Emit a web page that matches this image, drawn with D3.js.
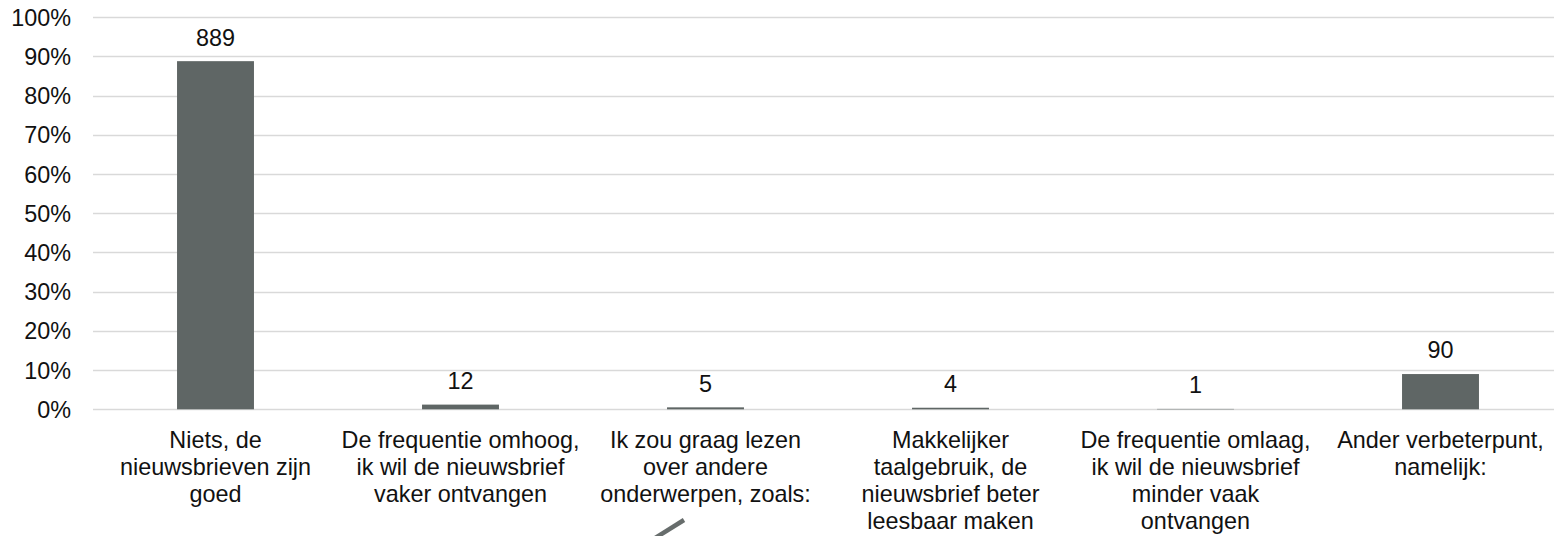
<!DOCTYPE html>
<html>
<head>
<meta charset="utf-8">
<script src="https://cdn.jsdelivr.net/npm/d3@7/dist/d3.min.js"></script>
<style>
  html, body { margin: 0; padding: 0; background: #fff; }
  svg { display: block; }
  text { font-family: "Liberation Sans", Arial, sans-serif; fill: #111; }
</style>
</head>
<body>
<svg id="chart" width="1554" height="536"></svg>
<script>
const categories = [
  ["Niets, de", "nieuwsbrieven zijn", "goed"],
  ["De frequentie omhoog,", "ik wil de nieuwsbrief", "vaker ontvangen"],
  ["Ik zou graag lezen", "over andere", "onderwerpen, zoals:"],
  ["Makkelijker", "taalgebruik, de", "nieuwsbrief beter", "leesbaar maken"],
  ["De frequentie omlaag,", "ik wil de nieuwsbrief", "minder vaak", "ontvangen"],
  ["Ander verbeterpunt,", "namelijk:"]
];
const counts = [889, 12, 5, 4, 1, 90];
const yTicks = [0, 0.1, 0.2, 0.3, 0.4, 0.5, 0.6, 0.7, 0.8, 0.9, 1.0];

(function () {
const total = d3.sum(counts);
const shares = counts.map(c => c / total);

const svg = d3.select("#chart");
const W = 1554;
const mLeft = 93, mRight = 1563, mTop = 17.3, mBottom = 409.3;
const fs = 23.4;

const x = d3.scaleBand()
  .domain(d3.range(categories.length))
  .range([mLeft, mRight])
  .paddingInner(0.686)
  .paddingOuter(0.343);
const y = d3.scaleLinear().domain([0, 1]).range([mBottom, mTop]);

// gridlines
svg.append("g")
  .selectAll("line")
  .data(yTicks)
  .join("line")
  .attr("x1", mLeft).attr("x2", W)
  .attr("y1", d => Math.round(y(d)) + 0.5)
  .attr("y2", d => Math.round(y(d)) + 0.5)
  .attr("stroke", "#d9d9d9")
  .attr("stroke-width", 1.5);

// y axis labels
svg.append("g")
  .selectAll("text")
  .data(yTicks)
  .join("text")
  .attr("x", 71)
  .attr("y", d => y(d))
  .attr("dy", "0.36em")
  .attr("text-anchor", "end")
  .attr("font-size", fs)
  .text(d => d3.format(".0%")(d));

// bars
svg.append("g")
  .selectAll("rect")
  .data(shares)
  .join("rect")
  .attr("x", (d, i) => x(i))
  .attr("width", x.bandwidth())
  .attr("y", d => y(d))
  .attr("height", d => mBottom - y(d))
  .attr("fill", "#5f6665");

// value labels
svg.append("g")
  .selectAll("text")
  .data(counts)
  .join("text")
  .attr("x", (d, i) => x(i) + x.bandwidth() / 2)
  .attr("y", (d, i) => y(shares[i]) - 24)
  .attr("dy", "0.36em")
  .attr("text-anchor", "middle")
  .attr("font-size", fs)
  .text(d => d);

// category labels
const catG = svg.append("g");
categories.forEach((lines, i) => {
  const cx = x(i) + x.bandwidth() / 2;
  const t = catG.append("text")
    .attr("text-anchor", "middle")
    .attr("font-size", fs)
    .attr("x", cx);
  lines.forEach((ln, j) => {
    t.append("tspan")
      .attr("x", cx)
      .attr("y", 440 + j * 27)
      .attr("dy", "0.36em")
      .text(ln);
  });
});

// stray stroke near the bottom
svg.append("line")
  .attr("x1", 652).attr("y1", 540)
  .attr("x2", 684).attr("y2", 520)
  .attr("stroke", "#676d6c")
  .attr("stroke-width", 4.5);
})();
</script>
</body>
</html>
